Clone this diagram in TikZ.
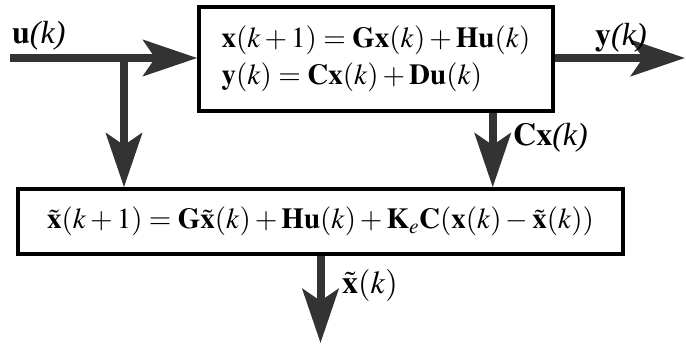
\documentclass[tikz,border=0pt]{standalone}
\usepackage{mathptmx}
\usepackage[no-math]{fontspec}
\setmainfont{Liberation Serif}
\usetikzlibrary{arrows.meta,positioning}
\definecolor{flow}{HTML}{333333}

\begin{document}
\begin{tikzpicture}[
  x=1pt,y=-1pt,
  blk/.style={draw,line width=3.5pt,align=left,inner sep=0pt,
    font=\fontsize{29}{37}\selectfont},
  a/.style={-{Stealth[length=54pt,width=36pt,inset=12pt]},line width=8pt,color=flow},
  lbl/.style={font=\fontsize{32}{36}\selectfont,inner sep=0pt,anchor=base west}
]
\useasboundingbox (0,0) rectangle (686,345);
\node[blk,minimum width=354pt,minimum height=104pt] (plant) at (376,59)
  {$\mathbf{x}(k+1)=\mathbf{G}\mathbf{x}(k)+\mathbf{H}\mathbf{u}(k)$\\
   $\mathbf{y}(k)=\mathbf{C}\mathbf{x}(k)+\mathbf{D}\mathbf{u}(k)$};
\node[blk,minimum width=605pt,minimum height=65pt,align=center] (obs) at (320.5,221.5)
  {$\tilde{\mathbf{x}}(k+1)=\mathbf{G}\tilde{\mathbf{x}}(k)+\mathbf{H}\mathbf{u}(k)
   +\mathbf{K}_{e}\mathbf{C}(\mathbf{x}(k)-\tilde{\mathbf{x}}(k))$};

\coordinate (uin) at (10,58);
\coordinate (split) at (124,58);
\coordinate (yout) at (685,58);
\coordinate (xhat) at (320.5,343);

% signal arrows
\draw[a] (uin) -- (uin -| plant.west);
\draw[a] (split) -- (split |- obs.north);
\draw[a] (yout -| plant.east) -- (yout);
\draw[a] ([xshift=-62pt]plant.south east) -- ([xshift=-62pt]plant.south east |- obs.north);
\draw[a] (obs.south) -- (xhat);

% signal names
\node[lbl] (ulbl) at (12,44) {$\mathbf{u}\textit{(k)}$};
\node[lbl] (ylbl) at (595,46) {$\mathbf{y}\textit{(k)}$};
\node[lbl] (cxlbl) at (513,146) {$\mathbf{C}\mathbf{x}\textit{(k)}$};
\node[lbl] (xlbl) at (342,293) {$\tilde{\mathbf{x}}(k)$};
\end{tikzpicture}
\end{document}
